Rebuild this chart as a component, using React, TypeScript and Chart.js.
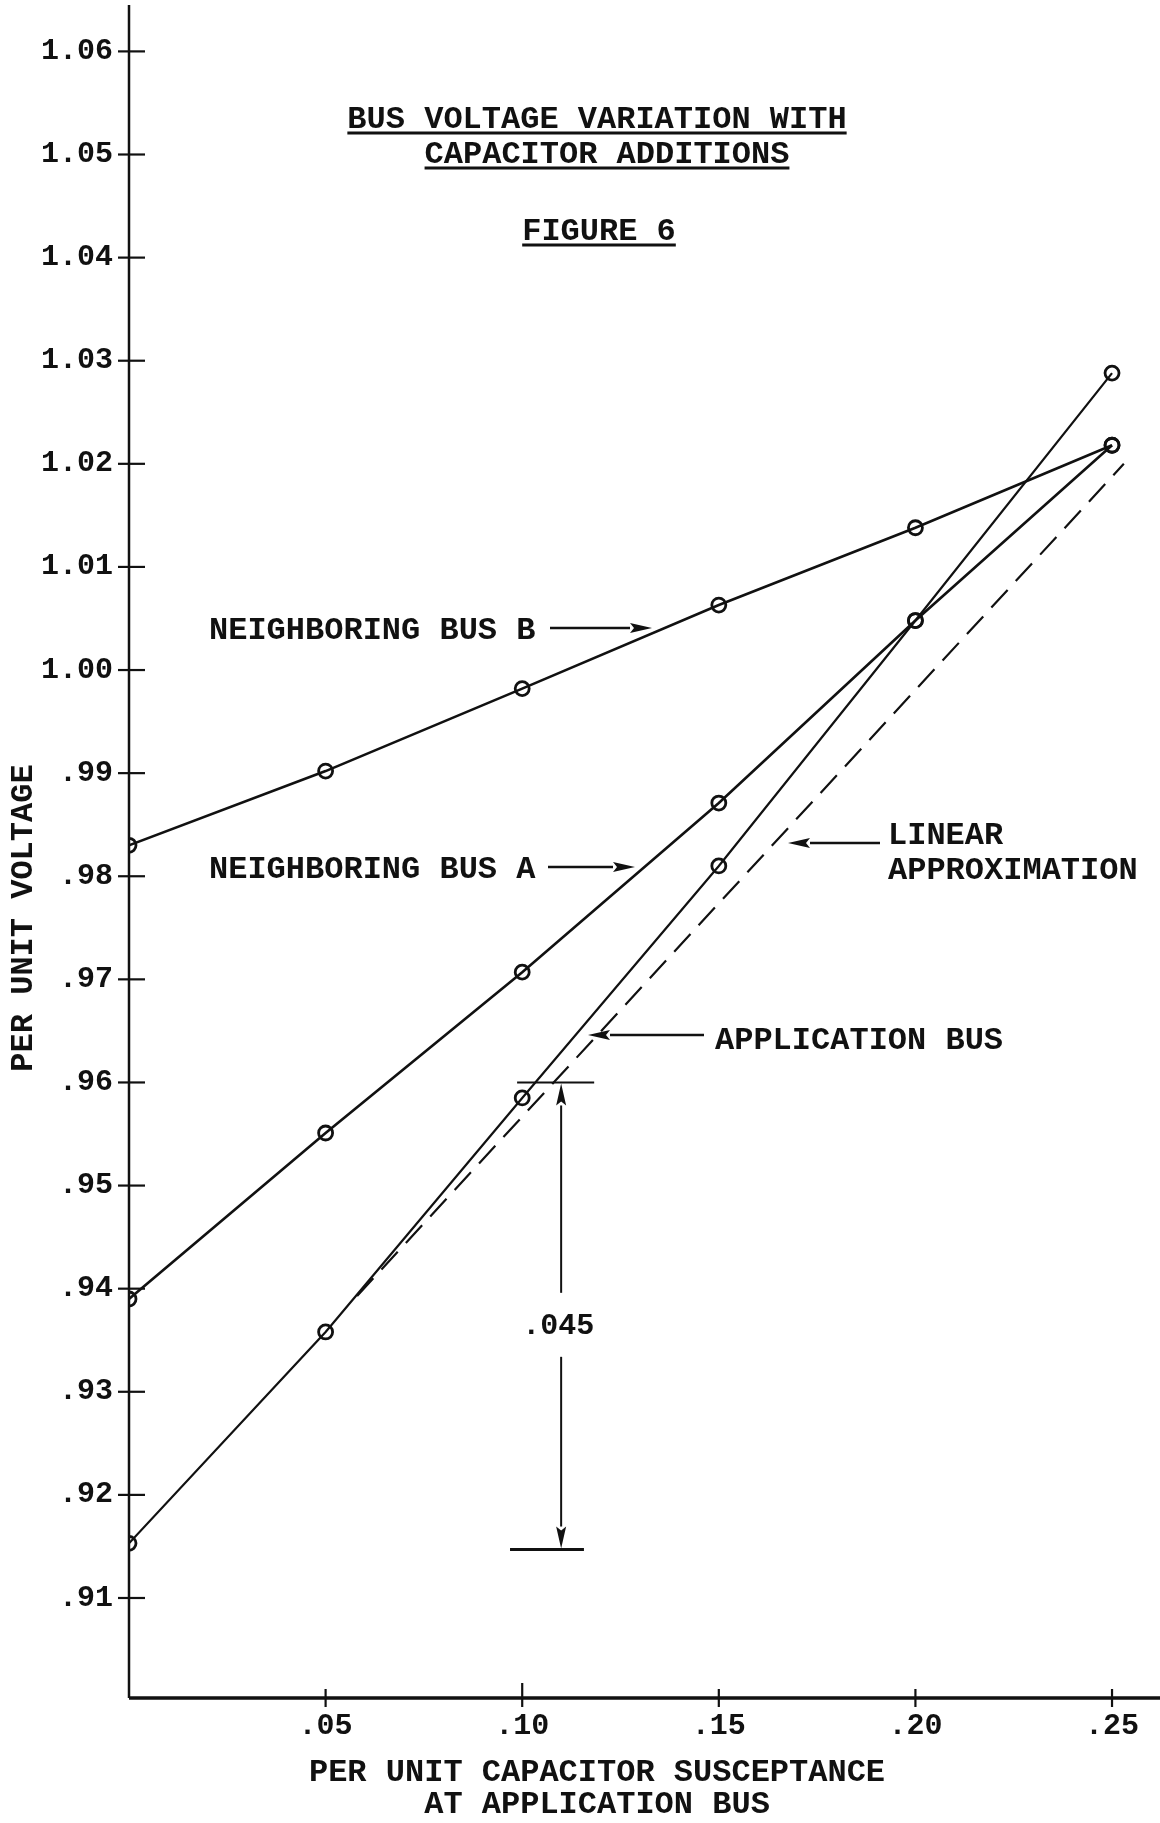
import React, { useEffect, useRef } from "react";
import { Chart, registerables } from "chart.js";

Chart.register(...registerables);

// ---- Data ----
const xValues = [0, 0.05, 0.1, 0.15, 0.2, 0.25];
const busB = [0.983, 0.9902, 0.9982, 1.0063, 1.0138, 1.0218];
const busA = [0.939, 0.9551, 0.9707, 0.9871, 1.0048, 1.0218];
const appBus = [0.9153, 0.9358, 0.9585, 0.981, 1.0048, 1.0288];
const linearX = [0.058, 0.253];
const linearY = [0.9393, 1.02];
const yTicks = [0.91, 0.92, 0.93, 0.94, 0.95, 0.96, 0.97, 0.98, 0.99, 1.0, 1.01, 1.02, 1.03, 1.04, 1.05, 1.06];
const xTicks = [0.05, 0.1, 0.15, 0.2, 0.25];
const dimX = 0.1099;
const dimTop = 0.96;
const dimBottom = 0.9147;
const dimText = ".045";

const titleLines = ["BUS VOLTAGE VARIATION WITH", "CAPACITOR ADDITIONS"];
const figureLabel = "FIGURE 6";
const yTitle = "PER UNIT VOLTAGE";
const xTitleLines = ["PER UNIT CAPACITOR SUSCEPTANCE", "AT APPLICATION BUS"];

const FONT = '"Liberation Mono", "DejaVu Sans Mono", monospace';
const INK = "#111";

function arrow(ctx: CanvasRenderingContext2D, x1: number, y1: number, x2: number, y2: number, lw = 2.4) {
  ctx.save();
  ctx.strokeStyle = INK;
  ctx.fillStyle = INK;
  ctx.lineWidth = lw;
  const ang = Math.atan2(y2 - y1, x2 - x1);
  const hl = 22;
  const hw = 5;
  const bx = x2 - hl * Math.cos(ang);
  const by = y2 - hl * Math.sin(ang);
  ctx.beginPath();
  ctx.moveTo(x1, y1);
  ctx.lineTo(bx, by);
  ctx.stroke();
  ctx.beginPath();
  ctx.moveTo(x2, y2);
  ctx.lineTo(bx + hw * Math.sin(ang), by - hw * Math.cos(ang));
  ctx.lineTo(bx + 4 * Math.cos(ang), by + 4 * Math.sin(ang));
  ctx.lineTo(bx - hw * Math.sin(ang), by + hw * Math.cos(ang));
  ctx.closePath();
  ctx.fill();
  ctx.restore();
}

function underlined(ctx: CanvasRenderingContext2D, text: string, cx: number, baseline: number) {
  ctx.textAlign = "center";
  ctx.textBaseline = "alphabetic";
  ctx.fillText(text, cx, baseline);
  const w = ctx.measureText(text).width;
  ctx.save();
  ctx.lineWidth = 3;
  ctx.beginPath();
  ctx.moveTo(cx - w / 2, baseline + 5);
  ctx.lineTo(cx + w / 2, baseline + 5);
  ctx.stroke();
  ctx.restore();
}

const decorPlugin = {
  id: "decor",
  afterDraw(chart: any) {
    const ctx: CanvasRenderingContext2D = chart.ctx;
    const ca = chart.chartArea;
    const xs = chart.scales.x;
    const ys = chart.scales.y;
    ctx.save();
    ctx.strokeStyle = INK;
    ctx.fillStyle = INK;

    // axes
    ctx.lineWidth = 2.5;
    ctx.beginPath();
    ctx.moveTo(ca.left, ca.top);
    ctx.lineTo(ca.left, ca.bottom);
    ctx.stroke();
    ctx.lineWidth = 3.5;
    ctx.beginPath();
    ctx.moveTo(ca.left, ca.bottom);
    ctx.lineTo(ca.right, ca.bottom);
    ctx.stroke();

    // tick marks crossing the axes
    ctx.lineWidth = 2.2;
    yTicks.forEach((v) => {
      const y = ys.getPixelForValue(v);
      ctx.beginPath();
      ctx.moveTo(ca.left - 11, y);
      ctx.lineTo(ca.left + 16, y);
      ctx.stroke();
    });
    xTicks.forEach((v) => {
      const x = xs.getPixelForValue(v);
      ctx.beginPath();
      ctx.moveTo(x, ca.bottom - (Math.abs(v - 0.1) < 1e-9 ? 15 : 9));
      ctx.lineTo(x, ca.bottom + 9);
      ctx.stroke();
    });

    // title block
    ctx.font = `bold 32px ${FONT}`;
    underlined(ctx, titleLines[0], 597, 128);
    underlined(ctx, titleLines[1], 607, 163);
    underlined(ctx, figureLabel, 599, 240);

    // series labels
    ctx.textAlign = "left";
    ctx.textBaseline = "alphabetic";
    ctx.fillText("NEIGHBORING BUS B", 209, 639);
    ctx.fillText("NEIGHBORING BUS A", 209, 878);
    ctx.fillText("LINEAR", 888, 844);
    ctx.fillText("APPROXIMATION", 888, 879);
    ctx.fillText("APPLICATION BUS", 715, 1049);

    arrow(ctx, 550, 628, 652, 628);
    arrow(ctx, 548, 867, 635, 867);
    arrow(ctx, 880, 843, 788, 843);
    arrow(ctx, 704, 1035, 588, 1035);

    // dimension marker
    const dx = xs.getPixelForValue(dimX);
    const dTop = ys.getPixelForValue(dimTop);
    const dBot = ys.getPixelForValue(dimBottom);
    ctx.lineWidth = 2;
    ctx.beginPath();
    ctx.moveTo(xs.getPixelForValue(0.0987), dTop);
    ctx.lineTo(xs.getPixelForValue(0.1183), dTop);
    ctx.stroke();
    ctx.lineWidth = 3;
    ctx.beginPath();
    ctx.moveTo(xs.getPixelForValue(0.0969), dBot);
    ctx.lineTo(xs.getPixelForValue(0.1157), dBot);
    ctx.stroke();
    const labelY = ys.getPixelForValue(0.9363);
    arrow(ctx, dx, labelY - 34, dx, dTop + 1, 2);
    arrow(ctx, dx, labelY + 30, dx, dBot - 1, 2);
    ctx.font = `bold 30px ${FONT}`;
    ctx.textAlign = "center";
    ctx.textBaseline = "middle";
    ctx.fillText(dimText, dx - 3, labelY);

    // axis titles
    ctx.font = `bold 32px ${FONT}`;
    ctx.save();
    ctx.translate(24, 918);
    ctx.rotate(-Math.PI / 2);
    ctx.textAlign = "center";
    ctx.textBaseline = "middle";
    ctx.fillText(yTitle, 0, 0);
    ctx.restore();
    ctx.textAlign = "center";
    ctx.textBaseline = "middle";
    ctx.fillText(xTitleLines[0], 597, 1773);
    ctx.fillText(xTitleLines[1], 597, 1805);

    ctx.restore();
  },
};

function series(ys: number[]) {
  return xValues.map((x, i) => ({ x, y: ys[i] }));
}

export default function App() {
  const ref = useRef<HTMLCanvasElement | null>(null);
  useEffect(() => {
    if (!ref.current) return;
    const pointStyle = {
      pointRadius: 7,
      pointBorderWidth: 2.8,
      pointBorderColor: INK,
      pointBackgroundColor: "rgba(0,0,0,0)",
      borderColor: INK,
      borderWidth: 2.6,
      showLine: true,
      tension: 0,
      fill: false,
    };
    const chart = new Chart(ref.current, {
      type: "scatter",
      data: {
        datasets: [
          { label: "Neighboring Bus B", data: series(busB), ...pointStyle },
          { label: "Neighboring Bus A", data: series(busA), ...pointStyle },
          { label: "Application Bus", data: series(appBus), ...pointStyle, borderWidth: 2.2 },
          {
            label: "Linear Approximation",
            data: linearX.map((x, i) => ({ x, y: linearY[i] })),
            showLine: true,
            borderColor: INK,
            borderWidth: 2.2,
            borderDash: [24, 12],
            pointRadius: 0,
            tension: 0,
            fill: false,
          },
        ],
      },
      options: {
        responsive: false,
        animation: false,
        devicePixelRatio: 1,
        layout: { autoPadding: false, padding: { top: 5, right: 0, left: 0, bottom: 0 } },
        plugins: {
          legend: { display: false },
          tooltip: { enabled: false },
          title: { display: false },
        },
        scales: {
          x: {
            type: "linear",
            min: 0,
            max: 0.2622,
            afterFit: (s: any) => {
              s.height = 125;
              s.paddingLeft = 0;
              s.paddingRight = 0;
            },
            afterBuildTicks: (s: any) => {
              s.ticks = xTicks.map((v) => ({ value: v }));
            },
            grid: { display: false, drawTicks: false },
            border: { display: false },
            ticks: {
              padding: 10,
              color: INK,
              autoSkip: false,
              maxRotation: 0,
              font: { family: FONT, size: 30, weight: "bold" },
              callback: (v: any) => "." + Math.round(Number(v) * 100).toString().padStart(2, "0"),
            },
          },
          y: {
            type: "linear",
            min: 0.9003,
            max: 1.0645,
            afterFit: (s: any) => {
              s.width = 129;
              s.paddingTop = 0;
              s.paddingBottom = 0;
            },
            afterBuildTicks: (s: any) => {
              s.ticks = yTicks.map((v) => ({ value: v }));
            },
            grid: { display: false, drawTicks: false },
            border: { display: false },
            ticks: {
              padding: 16,
              color: INK,
              autoSkip: false,
              font: { family: FONT, size: 30, weight: "bold" },
              callback: (v: any) => {
                const s = Number(v).toFixed(2);
                return Number(v) >= 1 ? s : s.slice(1);
              },
            },
          },
        },
      },
      plugins: [decorPlugin],
    } as any);
    return () => chart.destroy();
  }, []);
  return (
    <div style={{ position: "absolute", left: 0, top: 0, width: 1160, height: 1823, background: "#fff" }}>
      <canvas ref={ref} width={1160} height={1823} style={{ display: "block" }} />
    </div>
  );
}
